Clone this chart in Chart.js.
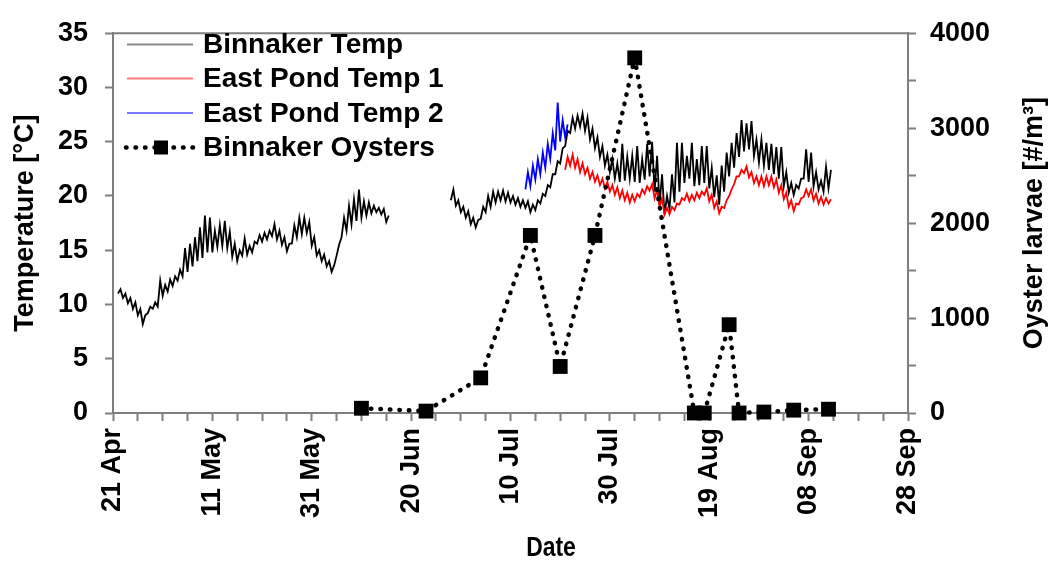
<!DOCTYPE html>
<html>
<head>
<meta charset="utf-8">
<title>Binnaker temperature and oyster larvae</title>
<script src="https://cdn.jsdelivr.net/npm/chart.js@4.4.1/dist/chart.umd.min.js"></script>
<style>
    html, body { margin: 0; padding: 0; background: #ffffff; }
    #wrap { width: 1050px; height: 563px; position: relative; }
</style>
</head>
<body>
<div id="wrap"><canvas id="tempChart"></canvas></div>
<script>
// x values are days after 21 Apr
const dateTickLabels = ['21 Apr', '11 May', '31 May', '20 Jun', '10 Jul', '30 Jul', '19 Aug', '08 Sep', '28 Sep'];

// Binnaker Temp, first deployment: daily low / daily high from day 1
const binnakerStart1 = 1;
const binnakerLow1 = [11.0, 10.6, 10.1, 9.6, 9.0, 8.2, 9.2, 9.6, 9.8, 10.8,
    11.2, 11.7, 12.2, 12.6, 13.0, 13.5, 14.0, 14.3, 14.8, 14.8,
    15.3, 15.4, 15.2, 14.4, 14.0, 14.5, 14.6, 14.8, 15.6, 15.8,
    16.0, 16.3, 16.0, 15.5, 14.9, 15.6, 16.2, 16.5, 16.6, 15.4,
    14.5, 14.0, 13.5, 13.0, 14.5, 16.2, 16.8, 17.4, 17.7, 18.0,
    18.2, 18.4, 18.5, 18.3, 17.6];
const binnakerHigh1 = [11.4, 11.0, 10.6, 10.2, 9.6, 9.0, 9.8, 10.2, 12.2, 11.8,
    12.3, 12.6, 13.2, 15.2, 15.6, 16.2, 17.1, 18.2, 18.0, 16.8,
    17.3, 17.7, 16.7, 15.6, 15.0, 16.1, 15.4, 15.8, 16.4, 16.6,
    16.8, 17.4, 16.8, 16.2, 15.6, 17.3, 18.0, 18.0, 17.6, 16.2,
    15.0, 14.6, 14.0, 13.6, 15.5, 18.0, 19.1, 19.7, 20.6, 19.5,
    19.4, 19.1, 18.9, 18.8, 18.2];

// Binnaker Temp, second deployment from day 68
const binnakerStart2 = 68;
const binnakerLow2 = [19.6, 19.1, 18.5, 18.0, 17.4, 17.1, 17.9, 18.5, 19.0, 19.4,
    19.6, 19.5, 19.4, 19.2, 19.0, 18.9, 18.5, 18.7, 19.3, 20.0,
    20.8, 22.0, 23.0, 24.6, 25.8, 26.2, 26.4, 26.0, 25.2, 24.4,
    23.6, 22.8, 22.2, 21.6, 21.3, 21.4, 21.6, 21.3, 21.2, 21.5,
    21.8, 20.4, 19.2, 18.3, 18.8, 19.4, 20.4, 21.2, 21.6, 20.9,
    21.0, 21.2, 20.7, 19.9, 19.2, 20.4, 21.8, 22.6, 23.6, 24.1,
    24.3, 23.7, 23.1, 22.8, 22.4, 22.0, 21.6, 20.9, 20.3, 20.1,
    20.7, 21.6, 21.3, 20.9, 20.6, 20.4, 20.7];
const binnakerHigh2 = [20.6, 19.6, 19.0, 18.6, 18.0, 17.8, 19.0, 20.0, 20.4, 20.4,
    20.5, 20.3, 20.0, 19.8, 19.6, 19.5, 19.2, 19.6, 20.2, 21.0,
    22.0, 23.2, 24.4, 26.0, 27.2, 27.4, 27.6, 27.2, 26.2, 25.4,
    24.6, 23.8, 23.4, 23.0, 24.8, 23.6, 23.7, 24.6, 23.4, 24.8,
    25.0, 23.7, 22.0, 20.0, 22.0, 24.9, 24.9, 23.7, 24.9, 23.4,
    24.6, 24.6, 22.6, 21.9, 22.8, 24.0, 24.9, 25.8, 27.0, 26.7,
    26.9, 25.2, 25.2, 24.9, 24.8, 24.5, 24.5, 22.2, 21.2, 21.0,
    21.6, 24.3, 24.0, 22.2, 21.4, 22.7, 22.4];

// East Pond Temp 1 from day 91
const eastPond1Start = 91;
const eastPond1Low = [22.4, 22.8, 22.6, 22.2, 22.0, 21.6, 21.3, 21.0, 20.7, 20.4,
    20.1, 19.8, 19.6, 19.4, 19.5, 19.9, 20.2, 20.5, 19.8, 19.0,
    18.3, 18.3, 18.7, 19.2, 19.6, 19.5, 19.6, 19.8, 20.1, 19.5,
    18.9, 18.4, 18.9, 20.0, 21.1, 21.8, 22.1, 21.7, 21.2, 21.0,
    20.9, 21.0, 20.8, 20.3, 19.7, 19.0, 18.6, 19.2, 19.9, 20.0,
    19.6, 19.3, 19.2, 19.3];
const eastPond1High = [23.6, 23.8, 23.4, 23.0, 22.6, 22.2, 21.9, 21.6, 21.3, 21.0,
    20.8, 20.5, 20.3, 20.1, 20.2, 20.6, 20.9, 21.1, 20.6, 19.8,
    18.9, 19.0, 19.3, 19.8, 20.2, 20.1, 20.3, 20.4, 20.7, 20.1,
    19.5, 19.0, 19.6, 20.6, 21.8, 22.4, 22.7, 22.2, 21.8, 21.8,
    21.8, 21.8, 21.5, 21.0, 20.3, 19.6, 19.3, 19.8, 20.6, 20.6,
    20.2, 19.9, 19.8, 19.7];

// East Pond Temp 2 from day 83
const eastPond2Start = 83;
const eastPond2Low = [20.6, 20.9, 21.5, 22.0, 22.6, 23.4, 24.2, 25.0, 25.4];
const eastPond2High = [22.2, 22.8, 23.4, 24.0, 24.8, 25.8, 28.6, 27.0, 26.6];

// Binnaker Oysters (larvae per m3)
const oysterDays = [50, 63, 74, 84, 90, 97, 105, 117, 119, 124, 126, 131, 137, 144];
const oysterLarvae = [50, 20, 370, 1870, 490, 1870, 3740, 0, 0, 930, 0, 10, 30, 40];

const axisColor = '#7f7f7f';
const fontFamily = '"Liberation Sans", Arial, sans-serif';

function dailyPoints(start, lows, highs) {
    const pts = [];
    lows.forEach(function(lo, i) {
        pts.push({ x: start + i, y: lo });
        pts.push({ x: start + i + 0.5, y: highs[i] });
    });
    return pts;
}

const binnakerPoints = dailyPoints(binnakerStart1, binnakerLow1, binnakerHigh1)
    .concat([{ x: binnakerStart1 + binnakerLow1.length, y: null }])
    .concat(dailyPoints(binnakerStart2, binnakerLow2, binnakerHigh2));

const legendItems = [
    { text: 'Binnaker Temp', color: '#8a8a8a' },
    { text: 'East Pond Temp 1', color: '#ff7a7a' },
    { text: 'East Pond Temp 2', color: '#7a7aff' },
    { text: 'Binnaker Oysters', oyster: true }
];

// legend inside the plot, frame top line and the two free-standing axis titles
const overlayPlugin = {
    id: 'overlay',
    afterDraw(chart) {
        const ctx = chart.ctx;
        const area = chart.chartArea;
        ctx.save();
        ctx.strokeStyle = axisColor;
        ctx.lineWidth = 2;
        ctx.beginPath();
        ctx.moveTo(area.left - 1, area.top);
        ctx.lineTo(area.right + 1, area.top);
        ctx.stroke();

        ctx.font = 'bold 28px ' + fontFamily;
        ctx.textBaseline = 'middle';
        ctx.textAlign = 'left';
        const rowY = [44.5, 78.5, 113, 147.5];
        legendItems.forEach(function(item, i) {
            const y = rowY[i];
            if (item.oyster) {
                ctx.strokeStyle = '#000';
                ctx.lineWidth = 4.5;
                ctx.lineCap = 'round';
                ctx.setLineDash([0.5, 9]);
                ctx.beginPath();
                ctx.moveTo(126, y);
                ctx.lineTo(194, y);
                ctx.stroke();
                ctx.setLineDash([]);
                ctx.fillStyle = '#000';
                ctx.fillRect(154, y - 7, 14, 14);
            } else {
                ctx.strokeStyle = item.color;
                ctx.lineWidth = 2;
                ctx.lineCap = 'butt';
                ctx.beginPath();
                ctx.moveTo(127, y);
                ctx.lineTo(193, y);
                ctx.stroke();
            }
            ctx.fillStyle = '#000';
            ctx.fillText(item.text, 203, y + 1);
        });

        ctx.font = 'bold 27px ' + fontFamily;
        ctx.textAlign = 'center';
        ctx.save();
        ctx.translate(551, 549);
        ctx.scale(0.85, 1);
        ctx.fillText('Date', 0, 0);
        ctx.restore();
        ctx.translate(1035, (area.top + area.bottom) / 2);
        ctx.rotate(-Math.PI / 2);
        ctx.fillText('Oyster larvae [#/m\u00B3]', 0, 0);
        ctx.restore();
    }
};

document.addEventListener('DOMContentLoaded', function() {
    const ctx = document.getElementById('tempChart');
    new Chart(ctx, {
        type: 'line',
        data: {
            datasets: [
                {
                    label: 'Binnaker Oysters',
                    data: oysterDays.map(function(d, i) { return { x: d, y: oysterLarvae[i] }; }),
                    yAxisID: 'yR',
                    borderColor: '#000',
                    borderWidth: 4.5,
                    borderDash: [0.5, 9],
                    borderCapStyle: 'round',
                    pointStyle: 'rect',
                    pointRadius: 10.5,
                    pointBackgroundColor: '#000',
                    pointBorderColor: '#000',
                    pointBorderWidth: 0,
                    clip: false,
                    order: 0
                },
                {
                    label: 'East Pond Temp 2',
                    data: dailyPoints(eastPond2Start, eastPond2Low, eastPond2High),
                    yAxisID: 'y',
                    borderColor: '#0000ff',
                    borderWidth: 1.8,
                    pointRadius: 0,
                    order: 1
                },
                {
                    label: 'East Pond Temp 1',
                    data: dailyPoints(eastPond1Start, eastPond1Low, eastPond1High),
                    yAxisID: 'y',
                    borderColor: '#ff0000',
                    borderWidth: 1.8,
                    pointRadius: 0,
                    order: 2
                },
                {
                    label: 'Binnaker Temp',
                    data: binnakerPoints,
                    yAxisID: 'y',
                    borderColor: '#000000',
                    borderWidth: 1.8,
                    pointRadius: 0,
                    spanGaps: false,
                    order: 3
                }
            ]
        },
        options: {
            responsive: true,
            maintainAspectRatio: false,
            animation: false,
            layout: {
                padding: { top: 25, left: 0, right: 0, bottom: 0 }
            },
            plugins: {
                legend: { display: false },
                tooltip: { enabled: false }
            },
            scales: {
                x: {
                    type: 'linear',
                    min: 0,
                    max: 160,
                    afterFit: function(scale) { scale.height = 150; },
                    border: { display: true, color: axisColor, width: 2 },
                    grid: {
                        drawOnChartArea: false,
                        drawTicks: true,
                        tickLength: 8,
                        tickColor: axisColor,
                        tickWidth: 2
                    },
                    ticks: {
                        stepSize: 5,
                        autoSkip: false,
                        minRotation: 90,
                        maxRotation: 90,
                        padding: 7,
                        color: '#000',
                        font: { family: fontFamily, size: 27, weight: 'bold' },
                        callback: function(value) {
                            return value % 20 === 0 ? dateTickLabels[value / 20] : '';
                        }
                    }
                },
                y: {
                    position: 'left',
                    min: 0,
                    max: 35,
                    afterFit: function(scale) { scale.width = 113; },
                    border: { display: true, color: axisColor, width: 2 },
                    grid: {
                        drawOnChartArea: false,
                        drawTicks: true,
                        tickLength: 8,
                        tickColor: axisColor,
                        tickWidth: 2
                    },
                    ticks: {
                        stepSize: 5,
                        padding: 17,
                        color: '#000',
                        font: { family: fontFamily, size: 27, weight: 'bold' }
                    },
                    title: {
                        display: true,
                        text: 'Temperature [\u00B0C]',
                        color: '#000',
                        padding: { top: 9, bottom: 0 },
                        font: { family: fontFamily, size: 27, weight: 'bold' }
                    }
                },
                yR: {
                    position: 'right',
                    min: 0,
                    max: 4000,
                    afterFit: function(scale) { scale.width = 142; },
                    border: { display: true, color: axisColor, width: 2 },
                    grid: {
                        drawOnChartArea: false,
                        drawTicks: true,
                        tickLength: 8,
                        tickColor: axisColor,
                        tickWidth: 2
                    },
                    ticks: {
                        stepSize: 500,
                        padding: 14,
                        color: '#000',
                        font: { family: fontFamily, size: 27, weight: 'bold' },
                        callback: function(value) {
                            return value % 1000 === 0 ? value : '';
                        }
                    }
                }
            }
        },
        plugins: [overlayPlugin]
    });
});
</script>
</body>
</html>
